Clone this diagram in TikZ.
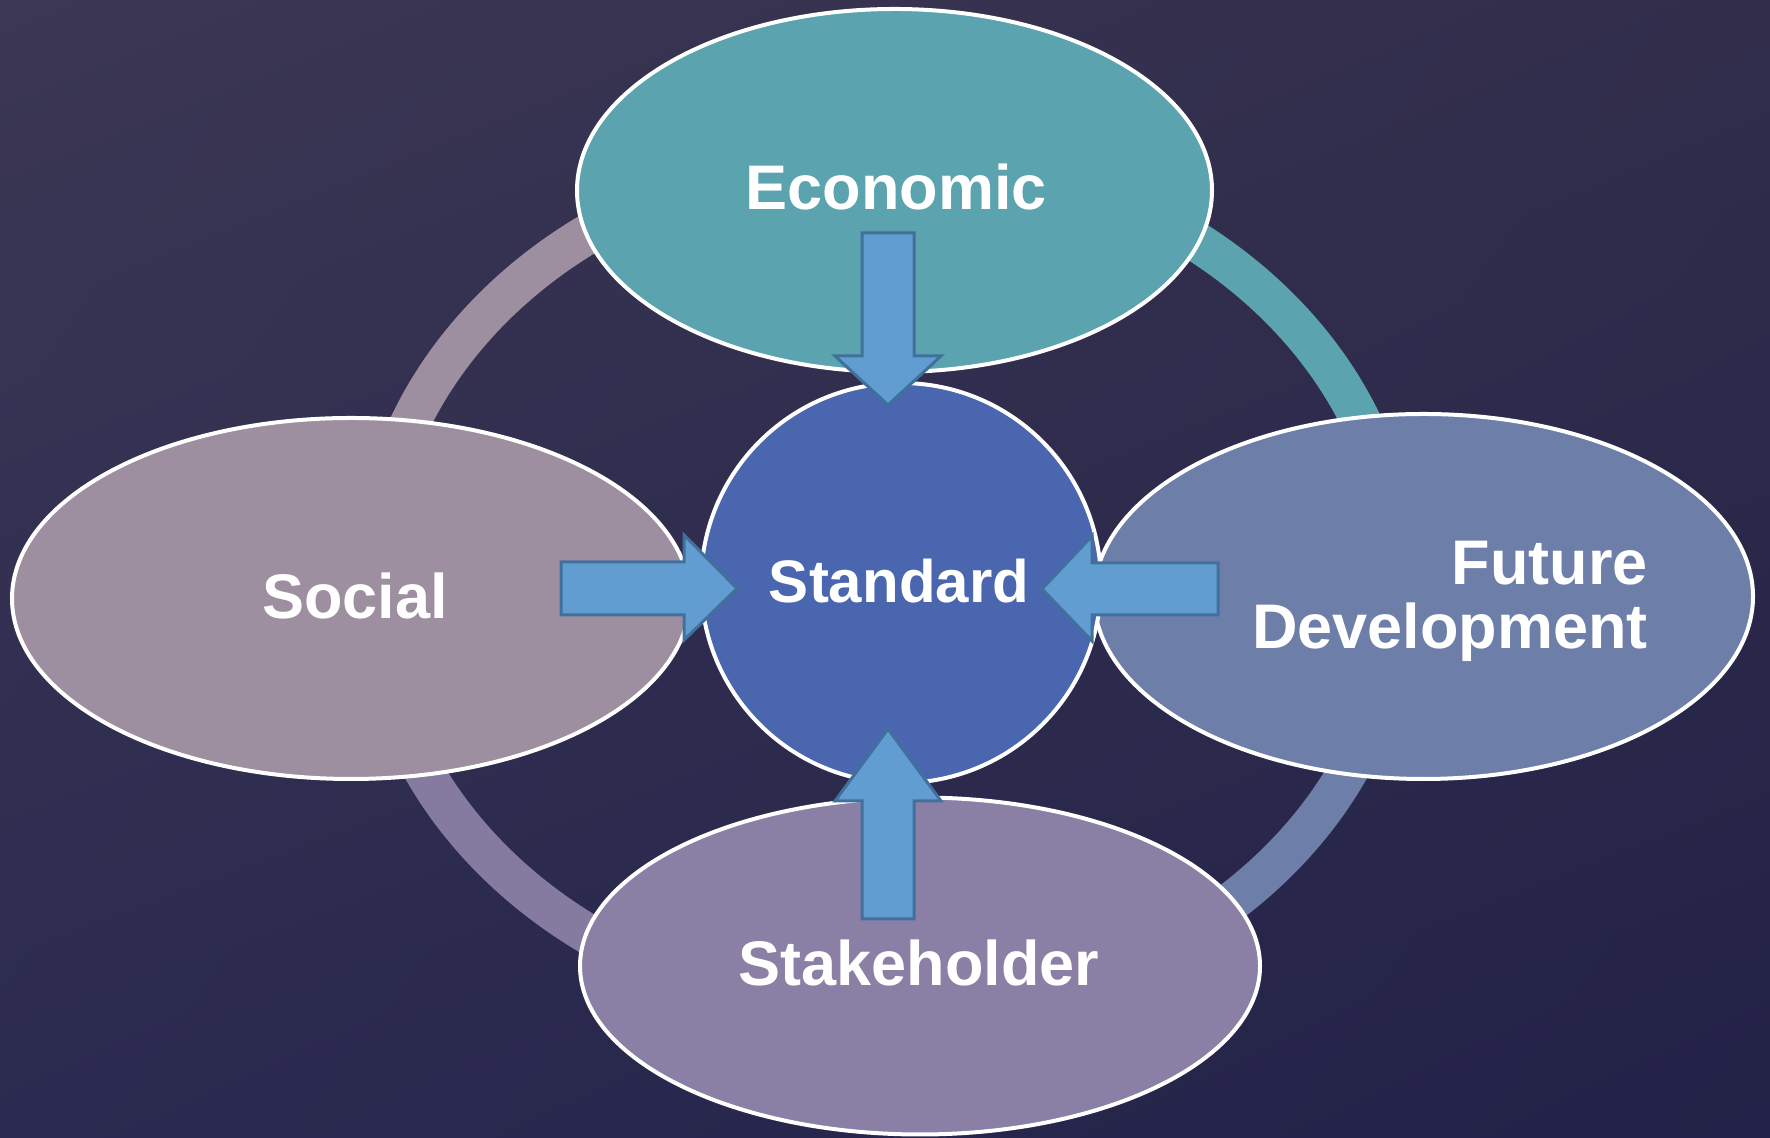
\documentclass[tikz,border=0pt]{standalone}
\usepackage{fontspec}
\setmainfont{Liberation Sans}
\usetikzlibrary{shapes.geometric,shadings}
\definecolor{bgUL}{HTML}{3B3754}
\definecolor{bgUR}{HTML}{312D4B}
\definecolor{bgLL}{HTML}{2B2A50}
\definecolor{bgLR}{HTML}{222147}
\definecolor{econc}{HTML}{5BA3AE}
\definecolor{socialc}{HTML}{9D8FA0}
\definecolor{futc}{HTML}{6D7FA8}
\definecolor{stakec}{HTML}{8A80A5}
\definecolor{ringlow}{HTML}{857BA0}
\definecolor{stdc}{HTML}{4A66AF}
\definecolor{arrowfill}{HTML}{619DD1}
\definecolor{arrowline}{HTML}{41709D}
\begin{document}
\begin{tikzpicture}[x=0.5pt,y=0.5pt,
  ellbox/.style={ellipse, draw=white, line width=2pt, inner sep=0pt, outer sep=0pt},
  lbl/.style={text=white, font=\fontsize{31.5}{32}\selectfont\bfseries, inner sep=0pt},
  ringseg/.style={line width=20pt},
  blockarrow/.style={fill=arrowfill, draw=arrowline, line width=1.5pt, line join=miter}]
\useasboundingbox (0,0) rectangle (1770,1138);
\shade[upper left=bgUL, upper right=bgUR, lower left=bgLL, lower right=bgLR] (0,0) rectangle (1770,1138);
% ring
\draw[ringseg, draw=socialc] (886,984) arc[start angle=90, end angle=180, x radius=256.5pt, y radius=215pt];
\draw[ringseg, draw=econc] (1399,554) arc[start angle=0, end angle=90, x radius=256.5pt, y radius=215pt];
\draw[ringseg, draw=futc] (886,124) arc[start angle=270, end angle=360, x radius=256.5pt, y radius=215pt];
\draw[ringseg, draw=ringlow] (373,554) arc[start angle=180, end angle=270, x radius=256.5pt, y radius=215pt];
% ellipses
\node[ellbox, fill=econc, minimum width=317.5pt, minimum height=181.5pt] (econ) at (894.5,947.5) {};
\node[ellbox, fill=socialc, minimum width=339pt, minimum height=180.5pt] (soc) at (351,539.5) {};
\node[ellbox, fill=futc, minimum width=329.5pt, minimum height=182.5pt] (fut) at (1423.5,541.5) {};
\node[ellbox, fill=stakec, minimum width=340pt, minimum height=168.5pt] (stk) at (920,172) {};
\node[circle, draw=white, line width=2pt, fill=stdc, minimum size=200pt, inner sep=0pt, outer sep=0pt] (std) at (901,555) {};
% block arrows
\draw[blockarrow] (862,905) -- (914,905) -- (914,782) -- (941,782) -- (888,733) -- (835,782) -- (862,782) -- cycle;
\draw[blockarrow] (862,219) -- (914,219) -- (914,337) -- (941,337) -- (888,409) -- (835,337) -- (862,337) -- cycle;
\draw[blockarrow] (561,576) -- (684,576) -- (684,603) -- (737,549.5) -- (684,498) -- (684,523) -- (561,523) -- cycle;
\draw[blockarrow] (1218,575) -- (1092,575) -- (1092,602) -- (1042,549) -- (1092,497) -- (1092,523) -- (1218,523) -- cycle;
% labels
\node[lbl, anchor=base] (econtxt) at (896,928) {Economic};
\node[lbl, anchor=base] (soctxt) at (355,519) {Social};
\node[lbl, anchor=base, font=\fontsize{30}{32}\selectfont\bfseries] (stdtxt) at (899,535) {Standard};
\node[lbl, anchor=base] (stktxt) at (919,152) {Stakeholder};
\node[lbl, anchor=north east, align=right] (futtxt) at (1648,597.4) {Future\\Development};
\end{tikzpicture}
\end{document}
